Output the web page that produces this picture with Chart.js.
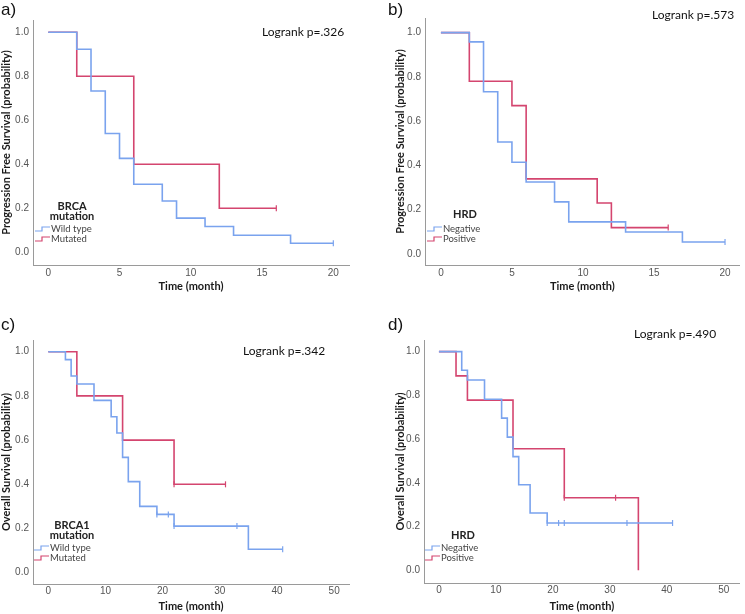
<!DOCTYPE html>
<html>
<head>
<meta charset="utf-8">
<script src="https://cdn.jsdelivr.net/npm/chart.js@4.4.1/dist/chart.umd.min.js"></script>
<style>
    body { margin: 0; background: #fff; width: 745px; height: 614px; position: relative; overflow: hidden; }
    canvas { position: absolute; }
</style>
</head>
<body>
<canvas id="panelA" width="372" height="300" style="left:0;top:0"></canvas>
<canvas id="panelB" width="373" height="300" style="left:372px;top:0"></canvas>
<canvas id="panelC" width="372" height="314" style="left:0;top:300px"></canvas>
<canvas id="panelD" width="373" height="314" style="left:372px;top:300px"></canvas>
<script>
// Tick labels
const xTicksPFS = [0, 5, 10, 15, 20];
const xTicksOS = [0, 10, 20, 30, 40, 50];
const yTicks = [0, 0.2, 0.4, 0.6, 0.8, 1.0];

// a) PFS by BRCA mutation
const aWildTime = [0, 2, 3, 4, 5, 6, 8, 9, 11, 13, 17, 20];
const aWildSurv = [1, 0.923, 0.733, 0.54, 0.427, 0.309, 0.233, 0.155, 0.117, 0.077, 0.041, 0.041];
const aWildCensT = [20];
const aWildCensS = [0.041];
const aMutTime = [0, 2, 6, 12, 16];
const aMutSurv = [1, 0.8, 0.4, 0.2, 0.2];
const aMutCensT = [16];
const aMutCensS = [0.2];

// b) PFS by HRD
const bNegTime = [0, 2, 3, 4, 5, 6, 8, 9, 13, 17, 20];
const bNegSurv = [1, 0.958, 0.733, 0.506, 0.414, 0.325, 0.235, 0.145, 0.099, 0.054, 0.054];
const bNegCensT = [20];
const bNegCensS = [0.054];
const bPosTime = [0, 2, 5, 6, 11, 12, 16];
const bPosSurv = [1, 0.78, 0.67, 0.339, 0.23, 0.119, 0.119];
const bPosCensT = [16];
const bPosCensS = [0.119];

// c) OS by BRCA1 mutation
const cWildTime = [0, 3, 4, 5, 8, 11, 12, 13, 14, 16, 19, 22, 35, 41];
const cWildSurv = [1, 0.964, 0.89, 0.854, 0.78, 0.706, 0.632, 0.522, 0.412, 0.30, 0.264, 0.211, 0.106, 0.106];
const cWildCensT = [19, 21, 22, 33, 41];
const cWildCensS = [0.264, 0.264, 0.211, 0.211, 0.106];
const cMutTime = [0, 5, 13, 22, 31];
const cMutSurv = [1, 0.8, 0.6, 0.4, 0.4];
const cMutCensT = [22, 31];
const cMutCensS = [0.4, 0.4];

// d) OS by HRD
const dNegTime = [0, 4, 5, 8, 11, 12, 13, 14, 16, 19, 41];
const dNegSurv = [1, 0.915, 0.87, 0.782, 0.696, 0.609, 0.52, 0.391, 0.262, 0.216, 0.216];
const dNegCensT = [19, 21, 22, 33, 41];
const dNegCensS = [0.216, 0.216, 0.216, 0.216, 0.216];
const dPosTime = [0, 3, 5, 13, 22, 35];
const dPosSurv = [1, 0.889, 0.778, 0.556, 0.332, 0];
const dPosCensT = [22, 31];
const dPosCensS = [0.332, 0.332];

const BLUE = '#7aa3ee';
const RED = '#d4456f';

const pares = (xs, ys) => xs.map((x, i) => ({ x: x, y: ys[i] }));

// dibuja letra, logrank y leyenda
const kmNotes = {
    id: 'kmNotes',
    afterDraw(chart, args, o) {
        const ctx = chart.ctx;
        ctx.save();
        ctx.textBaseline = 'middle';
        ctx.fillStyle = '#111';
        ctx.textAlign = 'left';
        ctx.font = '17px "Liberation Sans", Arial';
        ctx.fillText(o.letter, o.letterX, o.letterY);
        ctx.font = '12px Lato';
        ctx.fillText(o.logrank, o.lrX, o.lrY);

        ctx.fillStyle = '#222';
        ctx.textAlign = 'center';
        ctx.font = 'bold 11px Lato';
        o.legendTitle.forEach((t, i) => ctx.fillText(t, o.legX, o.legY + i * 10));

        ctx.textAlign = 'left';
        ctx.font = '9.5px Lato';
        o.labels.forEach((lab, i) => {
            const y = o.symY + i * 10;
            const x0 = o.symX;
            ctx.strokeStyle = i === 0 ? BLUE : RED;
            ctx.lineWidth = 1.2;
            ctx.beginPath();
            ctx.moveTo(x0, y + 2);
            ctx.lineTo(x0 + 7, y + 2);
            ctx.lineTo(x0 + 7, y - 2);
            ctx.lineTo(x0 + 15, y - 2);
            ctx.stroke();
            ctx.fillStyle = '#444';
            ctx.fillText(lab, x0 + 16, y);
        });
        ctx.restore();
    }
};

function crearPanel(id, p) {
    const ctx = document.getElementById(id).getContext('2d');
    const tickFont = { family: '"Liberation Sans", Arial', size: 10 };
    const titleFont = { family: 'Lato', weight: 'bold', size: 11 };
    const linea = (data, color) => ({
        type: 'line', data: data, borderColor: color, borderWidth: 1.6,
        stepped: 'before', pointRadius: 0, fill: false, tension: 0
    });
    const censura = (data, color) => ({
        type: 'scatter', data: data, borderColor: color, backgroundColor: color,
        pointStyle: 'line', rotation: 90, pointRadius: 3, borderWidth: 1.2, showLine: false
    });

    new Chart(ctx, {
        type: 'line',
        data: {
            datasets: [
                linea(p.s1, BLUE),
                linea(p.s2, RED),
                censura(p.c1, BLUE),
                censura(p.c2, RED)
            ]
        },
        options: {
            responsive: false,
            animation: false,
            layout: { padding: p.pad },
            plugins: {
                legend: { display: false },
                tooltip: { enabled: false },
                kmNotes: p.notes
            },
            scales: {
                x: {
                    type: 'linear', min: p.xMin, max: p.xMax,
                    afterBuildTicks: s => { s.ticks = p.xTicks.map(v => ({ value: v })); },
                    afterFit: s => { s.height = p.xH; },
                    grid: { display: false, drawTicks: false },
                    border: { display: true, color: '#9a9a9a', width: 1 },
                    ticks: { padding: p.xTickPad, color: '#555', font: tickFont, maxRotation: 0, autoSkip: false },
                    title: {
                        display: true, text: 'Time (month)', color: '#1a1a1a', font: titleFont,
                        padding: { top: 0, bottom: p.xTitlePad }
                    }
                },
                y: {
                    type: 'linear', min: p.yMin, max: p.yMax,
                    afterBuildTicks: s => { s.ticks = yTicks.map(v => ({ value: v })); },
                    afterFit: s => { s.width = p.yW; },
                    grid: { display: false, drawTicks: false },
                    border: { display: true, color: '#9a9a9a', width: 1 },
                    ticks: { padding: 4, color: '#555', font: tickFont, callback: v => v.toFixed(1) },
                    title: {
                        display: true, text: p.yTitle, color: '#1a1a1a', font: titleFont,
                        padding: { top: p.yTitlePad, bottom: 0 }
                    }
                }
            }
        },
        plugins: [kmNotes]
    });
}

crearPanel('panelA', {
    s1: pares(aWildTime, aWildSurv), s2: pares(aMutTime, aMutSurv),
    c1: pares(aWildCensT, aWildCensS), c2: pares(aMutCensT, aMutCensS),
    xTicks: xTicksPFS, xMin: -1.07, xMax: 21.1, yMin: -0.058, yMax: 1.056,
    pad: { left: 0, top: 20, right: 23, bottom: 0 }, xH: 35, yW: 33,
    xTickPad: 2, xTitlePad: 6.5, yTitlePad: 0,
    yTitle: 'Progression Free Survival (probability)',
    notes: {
        letter: 'a)', letterX: 1, letterY: 10, logrank: 'Logrank p=.326', lrX: 262, lrY: 32,
        legendTitle: ['BRCA', 'mutation'], legX: 72, legY: 206,
        labels: ['Wild type', 'Mutated'], symX: 35, symY: 229
    }
});

crearPanel('panelB', {
    s1: pares(bNegTime, bNegSurv), s2: pares(bPosTime, bPosSurv),
    c1: pares(bNegCensT, bNegCensS), c2: pares(bPosCensT, bPosCensS),
    xTicks: xTicksPFS, xMin: -1.12, xMax: 21.04, yMin: -0.05, yMax: 1.066,
    pad: { left: 0, top: 18, right: 3, bottom: 0 }, xH: 35, yW: 53,
    xTickPad: 2, xTitlePad: 6.5, yTitlePad: 21.5,
    yTitle: 'Progression Free Survival (probability)',
    notes: {
        letter: 'b)', letterX: 16, letterY: 10, logrank: 'Logrank p=.573', lrX: 280, lrY: 15,
        legendTitle: ['HRD'], legX: 93, legY: 214,
        labels: ['Negative', 'Positive'], symX: 55, symY: 229
    }
});

crearPanel('panelC', {
    s1: pares(cWildTime, cWildSurv), s2: pares(cMutTime, cMutSurv),
    c1: pares(cWildCensT, cWildCensS), c2: pares(cMutCensT, cMutCensS),
    xTicks: xTicksOS, xMin: -2.67, xMax: 52.6, yMin: -0.051, yMax: 1.053,
    pad: { left: 0, top: 40, right: 23, bottom: 0 }, xH: 30, yW: 33,
    xTickPad: 1, xTitlePad: 1, yTitlePad: 0,
    yTitle: 'Overall Survival (probability)',
    notes: {
        letter: 'c)', letterX: 1, letterY: 25, logrank: 'Logrank p=.342', lrX: 243, lrY: 51,
        legendTitle: ['BRCA1', 'mutation'], legX: 72, legY: 225,
        labels: ['Wild type', 'Mutated'], symX: 34, symY: 248
    }
});

crearPanel('panelD', {
    s1: pares(dNegTime, dNegSurv), s2: pares(dPosTime, dPosSurv),
    c1: pares(dNegCensT, dNegCensS), c2: pares(dPosCensT, dPosCensS),
    xTicks: xTicksOS, xMin: -2.62, xMax: 52.8, yMin: -0.058, yMax: 1.053,
    pad: { left: 0, top: 40, right: 4, bottom: 0 }, xH: 31, yW: 52,
    xTickPad: 1, xTitlePad: 1, yTitlePad: 21.5,
    yTitle: 'Overall Survival (probability)',
    notes: {
        letter: 'd)', letterX: 16, letterY: 25, logrank: 'Logrank p=.490', lrX: 262, lrY: 34,
        legendTitle: ['HRD'], legX: 91, legY: 235,
        labels: ['Negative', 'Positive'], symX: 53, symY: 248
    }
});
</script>
</body>
</html>
